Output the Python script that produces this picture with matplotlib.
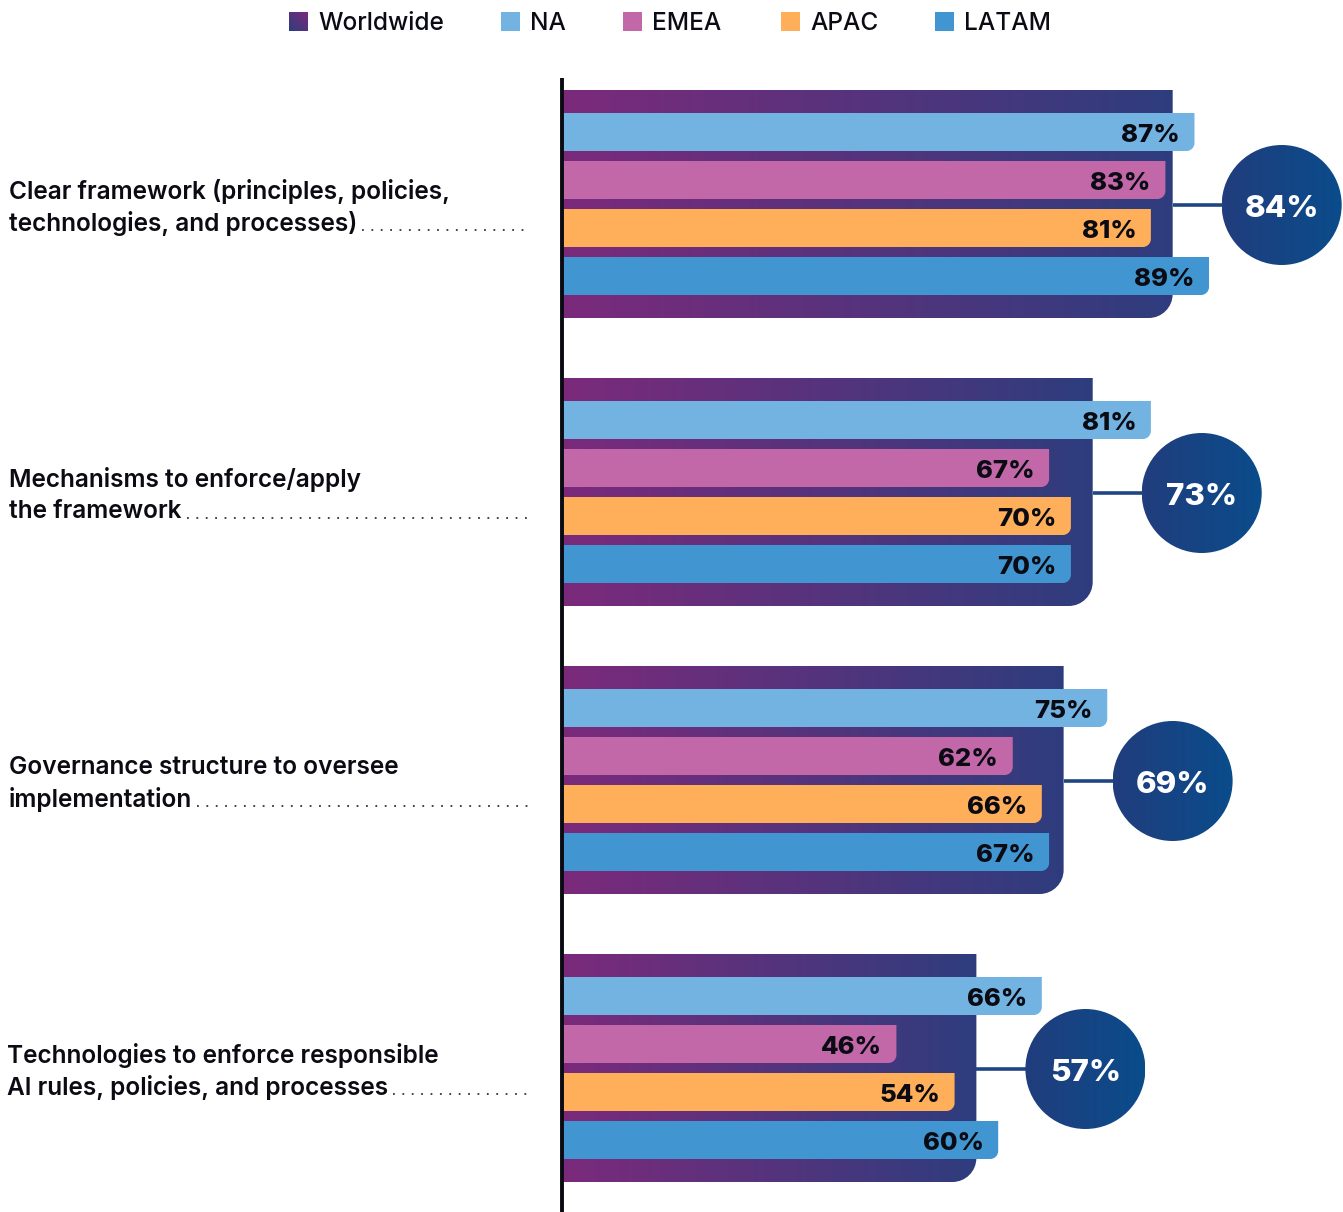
import numpy as np
import matplotlib
matplotlib.use('Agg')
import matplotlib.pyplot as plt
from matplotlib.path import Path
from matplotlib.patches import PathPatch, Ellipse, Rectangle
from matplotlib.colors import LinearSegmentedColormap
from matplotlib.lines import Line2D
from matplotlib.transforms import IdentityTransform

# data
categories = [
    ["Clear framework (principles, policies,", "technologies, and processes)"],
    ["Mechanisms to enforce/apply", "the framework"],
    ["Governance structure to oversee", "implementation"],
    ["Technologies to enforce responsible", "AI rules, policies, and processes"],
]
worldwide = [84, 73, 69, 57]
regions = ["NA", "EMEA", "APAC", "LATAM"]
region_values = {
    "NA": [87, 81, 75, 66],
    "EMEA": [83, 67, 62, 46],
    "APAC": [81, 70, 66, 54],
    "LATAM": [89, 70, 67, 60],
}
region_colors = {"NA": "#72B3E2", "EMEA": "#C268A8", "APAC": "#FFAE5A", "LATAM": "#4196D1"}

W, H = 1343, 1212
PX = 7.27          # pixels per percent
AX_LEFT = 562      # pixel position of the zero line
FONT = "Inter"

ww_cmap = LinearSegmentedColormap.from_list("ww", ["#7C2A7B", "#2E3D7E"])
circ_cmap = LinearSegmentedColormap.from_list("circ", ["#213D7D", "#0A4C8B"])
grad = np.linspace(0, 1, 256).reshape(1, -1)

fig = plt.figure(figsize=(W / 100, H / 100), dpi=100)
ax = fig.add_axes([AX_LEFT / W, 0, 1 - AX_LEFT / W, 1])
ax.set_xlim(0, (W - AX_LEFT) / PX)
ax.set_ylim(H, 0)
ax.axis("off")


def rbar_path(x0, x1, y0, y1, r):
    # rectangle with only the lower right corner rounded (y axis is inverted)
    rx, ry, k = r / PX, r, 0.5523
    verts = [(x0, y0), (x1, y0), (x1, y1 - ry),
             (x1, y1 - ry + k * ry), (x1 - rx + k * rx, y1), (x1 - rx, y1),
             (x0, y1), (x0, y0)]
    codes = [Path.MOVETO, Path.LINETO, Path.LINETO,
             Path.CURVE4, Path.CURVE4, Path.CURVE4,
             Path.LINETO, Path.CLOSEPOLY]
    return Path(verts, codes)


GROUP_TOP, GROUP_STEP, GROUP_H = 90, 288, 228
SUB_OFF, SUB_STEP, SUB_H = 23, 48, 38

for i, wv in enumerate(worldwide):
    top = GROUP_TOP + GROUP_STEP * i
    bot = top + GROUP_H
    mid = top + 115
    # worldwide bar with gradient
    patch = PathPatch(rbar_path(0, wv, top, bot, 24), facecolor="none", edgecolor="none")
    ax.add_patch(patch)
    im = ax.imshow(grad, extent=[0, wv, bot, top], cmap=ww_cmap, aspect="auto", zorder=1)
    im.set_clip_path(patch)

    # regional bars
    for j, reg in enumerate(regions):
        v = region_values[reg][i]
        y0 = top + SUB_OFF + SUB_STEP * j
        y1 = y0 + SUB_H
        ax.add_patch(PathPatch(rbar_path(0, v, y0, y1, 8), facecolor=region_colors[reg],
                               edgecolor="none", zorder=2))
        ax.text(v - 2.0, (y0 + y1) / 2 + 3, f"{v}%", ha="right", va="center",
                fontsize=18.5, fontweight="heavy", family=FONT, color="#0B0B14", zorder=3)

    # connector and circle
    cx = wv + 109 / PX
    ax.plot([wv, cx], [mid, mid], color="#1D4683", lw=2.6, zorder=1, solid_capstyle="butt")
    circ = Ellipse((cx, mid), 120 / PX, 120, facecolor="none", edgecolor="none")
    ax.add_patch(circ)
    cim = ax.imshow(grad, extent=[cx - 60 / PX, cx + 60 / PX, mid + 60, mid - 60],
                    cmap=circ_cmap, aspect="auto", zorder=3)
    cim.set_clip_path(circ)
    ax.text(cx, mid + 4, f"{wv}%", ha="center", va="center", fontsize=22.5,
            fontweight="heavy", family=FONT, color="white", zorder=4)

ax.set_xlim(0, (W - AX_LEFT) / PX)
ax.set_ylim(H, 0)

# zero line
ax.plot([0, 0], [78, H], color="#0A0A12", lw=2.8, zorder=5, solid_capstyle="butt", clip_on=False)

# category labels with dotted leaders (figure pixel coords)
last_lines = []
for i, (l1, l2) in enumerate(categories):
    mid = GROUP_TOP + GROUP_STEP * i + 114
    x = 9 if i < 3 else 7
    fig.text(x / W, 1 - (mid - 13) / H, l1, ha="left", va="center", fontsize=17.6,
             family=FONT, fontweight="semibold", color="#0B0B14")
    t = fig.text(x / W, 1 - (mid + 19) / H, l2, ha="left", va="center", fontsize=17.6,
                 family=FONT, fontweight="semibold", color="#0B0B14")
    last_lines.append((t, mid + 26))

fig.canvas.draw()
renderer = fig.canvas.get_renderer()
for t, ybase in last_lines:
    bb = t.get_window_extent(renderer)
    fig.add_artist(Line2D([bb.x1 + 5, 528], [H - ybase, H - ybase], transform=IdentityTransform(),
                          color="#333340", lw=1.3, linestyle=(0, (1, 4.2))))

# legend
legend_items = [("Worldwide", 289), ("NA", 501), ("EMEA", 623), ("APAC", 781), ("LATAM", 935)]
for name, lx in legend_items:
    if name == "Worldwide":
        lax = fig.add_axes([lx / W, 1 - 31 / H, 19 / W, 19 / H])
        gx, gy = np.meshgrid(np.linspace(0, 1, 32), np.linspace(0, 1, 32))
        lax.imshow((gx + (1 - gy)) / 2, cmap=LinearSegmentedColormap.from_list(
            "lg", ["#2E3D7E", "#7C2A7B"]), aspect="auto")
        lax.axis("off")
    else:
        fig.add_artist(Rectangle((lx / W, 1 - 31 / H), 19 / W, 19 / H,
                                 transform=fig.transFigure, facecolor=region_colors[name],
                                 edgecolor="none"))
    fig.text((lx + 29) / W, 1 - 23 / H, name, ha="left", va="center", fontsize=17.6,
             family=FONT, fontweight="medium", color="#0B0B14")

fig.savefig("out.png", dpi=100)
